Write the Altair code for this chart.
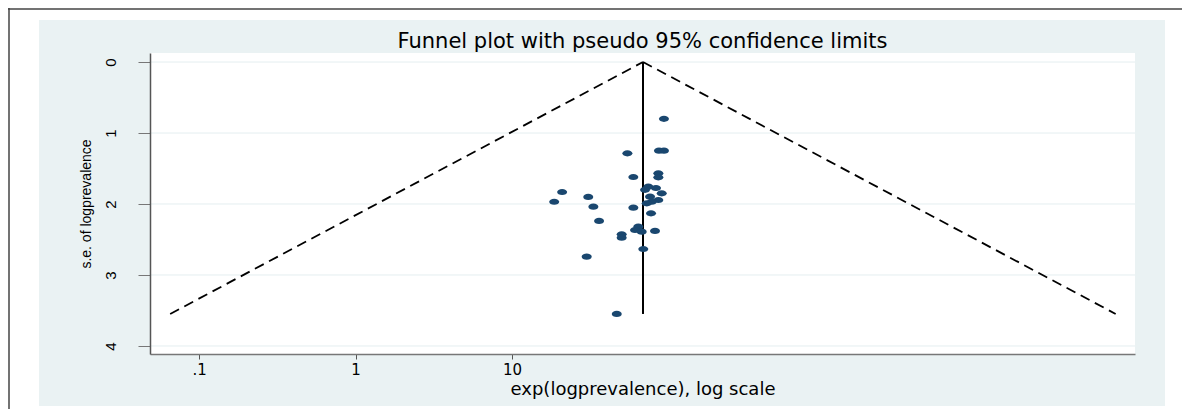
import altair as alt
import pandas as pd

# ---- data ----
prevalence = [93.5, 54.6, 86.9, 93.5, 59.6, 86.1, 86.1, 74.3, 83.2, 90.5, 76.2,
              86.1, 78.1, 70.8, 72.6, 59.6, 77.3, 20.9, 18.6, 30.7, 33.1, 36.0,
              64.1, 61.1, 67.4, 82.0, 50.2, 50.2, 69.0, 30.0, 46.7]
se_logprev = [0.80, 1.286, 1.249, 1.249, 1.62, 1.568, 1.624, 1.756, 1.775, 1.849,
              1.897, 1.944, 1.968, 1.80, 1.99, 2.052, 2.131, 1.831, 1.968, 1.901,
              2.038, 2.239, 2.320, 2.366, 2.390, 2.380, 2.427, 2.475, 2.634, 2.742,
              3.549]

pooled = 68.7            # apex of the funnel (exp scale)
se_max = 3.549           # funnel bottom
limit_lower = 0.0654     # pseudo 95% lower limit at se_max
limit_upper = 72000.0    # pseudo 95% upper limit at se_max

x_tick_values = [0.1, 1, 10]
x_tick_labels = [".1", "1", "10"]
y_tick_values = [0, 1, 2, 3, 4]

x_domain = [0.0486, 95700]
y_domain = [-0.127, 4.113]

title_text = "Funnel plot with pseudo 95% confidence limits"
x_title = "exp(logprevalence), log scale"
y_title = "s.e. of logprevalence"

W, H = 985, 301
BG = "#eaf2f3"
NAVY = "#1a476f"

points = pd.DataFrame({"prev": prevalence, "se": se_logprev})
funnel = pd.DataFrame({
    "prev": [pooled, limit_lower, pooled, limit_upper],
    "se": [0, se_max, 0, se_max],
    "side": ["lower", "lower", "upper", "upper"],
})
center = pd.DataFrame({"prev": [pooled, pooled], "se": [0, se_max]})
grid = pd.DataFrame({"se": y_tick_values})

label_expr = " : ".join(
    f"abs(datum.value - {v}) < 1e-9 ? '{l}'" for v, l in zip(x_tick_values, x_tick_labels)
) + " : ''"

xscale = alt.Scale(type="log", domain=x_domain, nice=False)
yscale = alt.Scale(domain=y_domain, reverse=True, nice=False, zero=False)

xaxis = alt.Axis(values=x_tick_values, labelExpr=label_expr, grid=False,
                 tickSize=5, tickColor="#555", domainColor="#777", domainWidth=1.5,
                 labelFont="DejaVu Sans", labelFontSize=15, labelColor="black",
                 labelPadding=3, title=x_title, titleFont="DejaVu Sans",
                 titleFontSize=18, titleFontWeight="normal", titleColor="black",
                 titlePadding=3, zindex=1)
yaxis = alt.Axis(values=y_tick_values, format="d", grid=False, tickSize=12,
                 tickColor="#777", domainColor="#555", domainWidth=1.5, labelAngle=270,
                 labelFont="Liberation Sans", labelFontSize=15,
                 labelColor="black", labelPadding=20, title=y_title,
                 titleFont="Liberation Sans Narrow, Liberation Sans", titleFontSize=14,
                 titleFontWeight="normal", titleColor="black", titlePadding=10,
                 zindex=1)

one = alt.Data(values=[{"t": title_text}])

gray_panel = alt.Chart(one).mark_rect(color=BG, clip=False).encode(
    x=alt.value(-111), x2=alt.value(1015), y=alt.value(-33), y2=alt.value(353))
white_plot = alt.Chart(one).mark_rect(color="white", clip=False).encode(
    x=alt.value(0), x2=alt.value(W), y=alt.value(0), y2=alt.value(H))
border_top = alt.Chart(one).mark_rule(color="#444", strokeWidth=1.5, clip=False).encode(
    x=alt.value(-142), x2=alt.value(1040), y=alt.value(-44))
border_left = alt.Chart(one).mark_rule(color="#444", strokeWidth=1.5, clip=False).encode(
    x=alt.value(-141), y=alt.value(-45), y2=alt.value(360))
title_layer = alt.Chart(one).mark_text(
    font="DejaVu Sans", fontSize=21, color="black", align="center",
    baseline="alphabetic", clip=False).encode(
    text="t:N", x=alt.value(W / 2), y=alt.value(-5))

grid_layer = alt.Chart(grid).mark_rule(color="#e4eef0", strokeWidth=1).encode(
    y=alt.Y("se:Q", scale=yscale))

funnel_layer = alt.Chart(funnel).mark_line(color="black", strokeWidth=1.8,
                                           strokeDash=[10, 6]).encode(
    x=alt.X("prev:Q", scale=xscale, axis=xaxis),
    y=alt.Y("se:Q", scale=yscale, axis=yaxis),
    detail="side:N")

center_layer = alt.Chart(center).mark_line(color="black", strokeWidth=2).encode(
    x=alt.X("prev:Q", scale=xscale),
    y=alt.Y("se:Q", scale=yscale))

ellipse = "M-1,0A1,0.62,0,1,1,1,0A1,0.62,0,1,1,-1,0Z"
point_layer = alt.Chart(points).mark_point(shape=ellipse, filled=True, opacity=1,
                                           color=NAVY, size=100).encode(
    x=alt.X("prev:Q", scale=xscale),
    y=alt.Y("se:Q", scale=yscale))

chart = alt.layer(
    gray_panel, white_plot, border_top, border_left, title_layer, grid_layer,
    funnel_layer, center_layer, point_layer
).properties(
    width=W, height=H,
    autosize=alt.AutoSizeParams(type="none"),
    padding={"left": 142, "top": 45, "right": 47, "bottom": 55},
    background="white",
).configure_view(stroke=None)

chart.save("out.html", embed_options={"renderer": "svg", "actions": False})
